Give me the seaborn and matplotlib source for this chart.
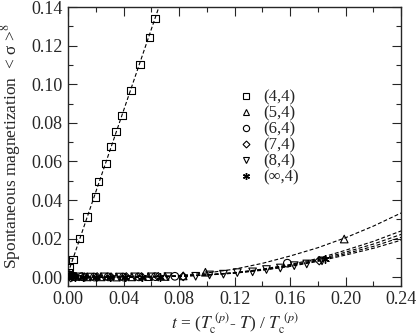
import numpy as np
import pandas as pd
import seaborn as sns
import matplotlib
matplotlib.use("Agg")
import matplotlib.pyplot as plt
from matplotlib.lines import Line2D
from matplotlib.ticker import MultipleLocator

# ---- data ----
sq_t = [0.0007, 0.0014, 0.0036, 0.0086, 0.0137, 0.0195, 0.0223, 0.0274, 0.0310, 0.0346, 0.0389, 0.0454, 0.0519, 0.0584, 0.0627]
sq_m = [0.0026, 0.0052, 0.0094, 0.0203, 0.0312, 0.0416, 0.0495, 0.0588, 0.0677, 0.0755, 0.0838, 0.0968, 0.1103, 0.1244, 0.1343]
sq_fit_t = [0.0, 0.07]
sq_fit_m = [0.002, 0.1495]

tri_t = [0.0015, 0.006, 0.014, 0.024, 0.035, 0.046, 0.058, 0.070, 0.083, 0.099, 0.199]
tri_m = [0.0008, 0.0004, 0.0002, 0.0002, 0.0001, 0.0002, 0.0003, 0.0004, 0.0007, 0.0026, 0.0198]

circ_t = [0.001, 0.004, 0.010, 0.019, 0.029, 0.040, 0.051, 0.063, 0.077, 0.158]
circ_m = [0.0012, 0.0005, 0.0003, 0.0001, 0.0002, 0.0001, 0.0002, 0.0003, 0.0005, 0.0073]

dia_t = [0.002, 0.005, 0.012, 0.021, 0.031, 0.042, 0.053, 0.065, 0.083, 0.181]
dia_m = [-0.0002, 0.0003, 0.0001, 0.0002, 0.0001, 0.0002, 0.0002, 0.0003, 0.0004, 0.0086]

dtri_t = [0.003, 0.008, 0.016, 0.026, 0.037, 0.048, 0.060, 0.072, 0.092, 0.102, 0.112, 0.122, 0.133, 0.143, 0.153, 0.163, 0.172, 0.183]
dtri_m = [0.0000, 0.0002, 0.0001, 0.0002, 0.0001, 0.0002, 0.0002, 0.0003, 0.0005, 0.0012, 0.0016, 0.0024, 0.0028, 0.0040, 0.0048, 0.0060, 0.0069, 0.0085]

star_t = [0.0005, 0.002, 0.005, 0.011, 0.020, 0.030, 0.041, 0.053, 0.066, 0.185]
star_m = [0.0010, 0.0004, 0.0002, 0.0001, 0.0002, 0.0001, 0.0002, 0.0002, 0.0003, 0.0095]

curve_t = [0.0, 0.02, 0.04, 0.06, 0.08, 0.10, 0.12, 0.14, 0.16, 0.18, 0.20, 0.22, 0.24]
curve_54 = [0.0, 0.0, 0.0001, 0.0003, 0.0009, 0.0022, 0.0042, 0.0072, 0.0110, 0.0153, 0.0205, 0.0265, 0.0333]
curve_64 = [0.0, 0.0, 0.0001, 0.0002, 0.0005, 0.0011, 0.0021, 0.0036, 0.0056, 0.0082, 0.0115, 0.0150, 0.0192]
curve_74 = [0.0, 0.0, 0.0001, 0.0002, 0.0005, 0.0012, 0.0022, 0.0038, 0.0059, 0.0086, 0.0122, 0.0160, 0.0207]
curve_84 = [0.0, 0.0, 0.0001, 0.0002, 0.0006, 0.0012, 0.0023, 0.0040, 0.0062, 0.0091, 0.0130, 0.0172, 0.0222]
curve_inf = [0.0, 0.0, 0.0001, 0.0002, 0.0006, 0.0013, 0.0024, 0.0042, 0.0066, 0.0097, 0.0140, 0.0186, 0.0240]

labels = ["(4,4)", "(5,4)", "(6,4)", "(7,4)", "(8,4)", "(\u221e,4)"]

sns.set_style("ticks")
plt.rcParams['font.family'] = ['Liberation Serif', 'DejaVu Serif']
plt.rcParams['mathtext.fontset'] = 'stix'

fig = plt.figure(figsize=(4.17, 3.36), dpi=100)
ax = fig.add_axes([0.163, 0.149, 0.799, 0.830])

dash = dict(color='black', linewidth=0.8, linestyle=(0, (3.5, 2)))
sns.lineplot(x=sq_fit_t, y=sq_fit_m, ax=ax, estimator=None, sort=False, **dash)
for c in [curve_54, curve_64, curve_74, curve_84, curve_inf]:
    sns.lineplot(x=curve_t, y=c, ax=ax, estimator=None, sort=False, **dash)

markers = ['s', '^', 'o', 'D', 'v', (6, 2, 0)]
sizes = [26, 30, 30, 18, 30, 30]
series = [(sq_t, sq_m), (tri_t, tri_m), (circ_t, circ_m), (dia_t, dia_m), (dtri_t, dtri_m), (star_t, star_m)]
for (tt, mm), mk, sz in zip(series, markers, sizes):
    if mk == (6, 2, 0):
        sns.scatterplot(x=tt, y=mm, ax=ax, marker=mk, s=sz, color='black', edgecolor='black', linewidth=1.0, zorder=3)
    else:
        sns.scatterplot(x=tt, y=mm, ax=ax, marker=mk, s=sz, facecolor='none', edgecolor='black', linewidth=0.8, zorder=3)

ax.set_xlim(0, 0.24)
ax.set_ylim(-0.0045, 0.14)
ax.xaxis.set_major_locator(MultipleLocator(0.04))
ax.xaxis.set_minor_locator(MultipleLocator(0.02))
ax.yaxis.set_major_locator(MultipleLocator(0.02))
ax.yaxis.set_minor_locator(MultipleLocator(0.01))
ax.xaxis.set_major_formatter(matplotlib.ticker.FormatStrFormatter('%.2f'))
ax.yaxis.set_major_formatter(matplotlib.ticker.FormatStrFormatter('%.2f'))
ax.tick_params(which='both', direction='in', top=True, right=True, labelsize=13, width=0.8, pad=4)
ax.tick_params(which='major', length=6.5)
ax.tick_params(which='minor', length=3.5)
for sp in ax.spines.values():
    sp.set_linewidth(1.0)

ax.set_xlabel(r"$t$ = ($T_{\mathrm{c}}^{\ (p)}$- $T$) / $T_{\mathrm{c}}^{\ (p)}$", fontsize=12.5, labelpad=2)
ax.set_ylabel("Spontaneous magnetization  < \u03c3 >$^{8}$", fontsize=12.5, labelpad=6)

handles = []
for mk, sz in zip(markers, sizes):
    if mk == (6, 2, 0):
        handles.append(Line2D([], [], linestyle='none', marker=mk, color='black', markersize=5, markeredgewidth=1.0))
    else:
        handles.append(Line2D([], [], linestyle='none', marker=mk, color='black', markerfacecolor='none',
                              markersize=4.5 if mk != 'D' else 3.5, markeredgewidth=0.8))
ax.legend(handles, labels, loc='upper left', bbox_to_anchor=(0.475, 0.745), frameon=False,
          fontsize=12, labelspacing=0.0, handletextpad=0.5, handlelength=1.0, borderpad=0.2)

fig.savefig("out.png", dpi=100)
